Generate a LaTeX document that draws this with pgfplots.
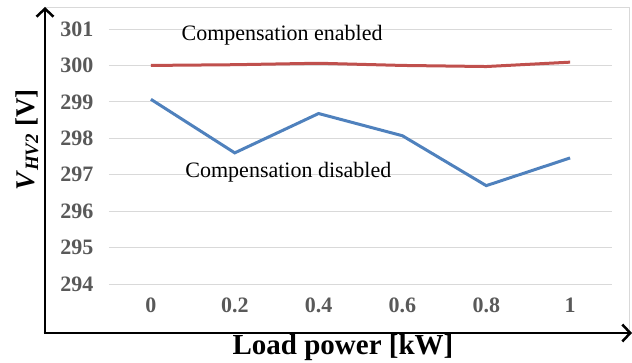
\documentclass[border=0pt]{standalone}
\usepackage{pgfplots}
\pgfplotsset{compat=1.18}
\usepackage{fontspec}
\setmainfont{Liberation Serif}
\usetikzlibrary{arrows.meta}

\definecolor{enabledred}{RGB}{192,80,77}
\definecolor{disabledblue}{RGB}{79,129,189}
\definecolor{gridgray}{RGB}{217,217,217}
\definecolor{tickgray}{RGB}{89,89,89}

\begin{document}
\begin{tikzpicture}
\path[use as bounding box] (-109pt,-78pt) rectangle (523pt,284pt);
% light chart-area border (top and right)
\draw[gridgray, line width=1pt] (-64pt,276pt) -- (520pt,276pt) -- (520pt,-49pt);
\begin{axis}[
  at={(0pt,0pt)}, anchor=south west,
  scale only axis, width=503pt, height=255pt,
  xmin=-0.5, xmax=5.5, ymin=294, ymax=301,
  xtick={0,1,2,3,4,5},
  xticklabels={0,0.2,0.4,0.6,0.8,1},
  ytick={294,295,...,301},
  axis line style={draw=none},
  major tick length=0pt,
  ymajorgrids, grid style={gridgray, line width=1pt},
  tick label style={font=\fontsize{22}{26}\selectfont\bfseries, text=tickgray},
  /pgf/number format/assume math mode=true,
  yticklabel style={xshift=-12pt},
  xticklabel style={yshift=-10pt},
  clip=false,
]
\addplot[enabledred, line width=3pt] coordinates {
  (0,300.00) (1,300.02) (2,300.06) (3,300.00) (4,299.97) (5,300.09)};
\addplot[disabledblue, line width=3pt] coordinates {
  (0,299.07) (1,297.60) (2,298.68) (3,298.07) (4,296.70) (5,297.46)};
\node[font=\fontsize{22}{26}\selectfont] at (axis cs:1.565,300.84) {Compensation enabled};
\node[font=\fontsize{22}{26}\selectfont] at (axis cs:1.64,297.07) {Compensation disabled};
\end{axis}
% axis arrows
\draw[line width=2.5pt, -{Straight Barb[length=8pt,width=17pt]}] (-64pt,-49pt) -- (-64pt,277pt);
\draw[line width=2.5pt, -{Straight Barb[length=8pt,width=17pt]}] (-65.25pt,-49pt) -- (523pt,-49pt);
\node[font=\fontsize{29}{34}\selectfont\bfseries] at (234pt,-64pt) {Load power [kW]};
\node[font=\fontsize{27}{32}\selectfont\bfseries, rotate=90] at (-82pt,144pt)
  {\textit{V}\textsubscript{\textit{HV2}} [V]};
\end{tikzpicture}
\end{document}
